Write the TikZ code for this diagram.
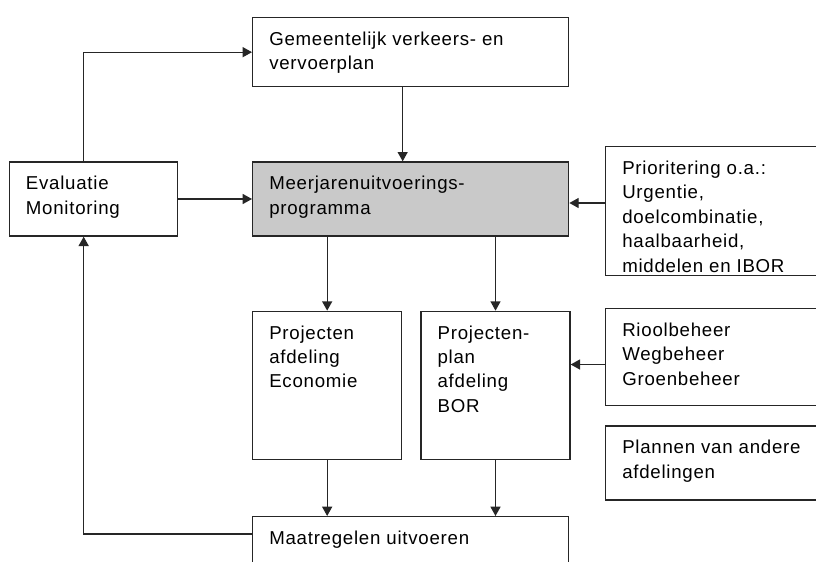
\documentclass[tikz,border=0pt]{standalone}
\usepackage{fontspec}
\setmainfont[LetterSpace=4]{Liberation Sans}
\usetikzlibrary{arrows.meta, positioning}

\begin{document}
\begin{tikzpicture}[x=0.75pt, y=-0.75pt,
	block/.style = {shape=rectangle, draw=black!85, line width=1pt, anchor=north west, inner sep=0pt},
	txt/.style = {anchor=north west, xshift=12.75pt, yshift=-11pt, align=left, inner sep=0pt, font=\fontsize{14}{18.3}\selectfont},
	flow/.style = {draw=black!85, line width=1pt, -{Triangle[length=7pt, width=7.5pt]}}]
	\useasboundingbox (0,0) rectangle (816,561);
	\node[block, minimum width=237pt, minimum height=51.75pt,
		label={[txt]north west:{Gemeentelijk verkeers- en\\vervoerplan}}] (GVVP) at (252,17) {};
	\node[block, fill=black!21, minimum width=237pt, minimum height=55.5pt,
		below=55.5pt of GVVP.south west, anchor=north west,
		label={[txt]north west:{Meerjarenuitvoerings-\\programma}}] (MUP) {};
	\node[block, minimum width=126pt, minimum height=55.5pt,
		left=55.5pt of MUP.north west, anchor=north east,
		label={[txt]north west:{Evaluatie\\Monitoring}}] (Eval) {};
	\node[block, minimum width=161.25pt, minimum height=96.75pt,
		label={[txt]north west:{Prioritering o.a.:\\Urgentie,\\doelcombinatie,\\haalbaarheid,\\middelen en IBOR}}] (Prio) at (605,146) {};
	\node[block, minimum width=111.75pt, minimum height=111pt,
		below=55.5pt of MUP.south west, anchor=north west,
		label={[txt]north west:{Projecten\\afdeling\\Economie}}] (Econ) {};
	\node[block, minimum width=111.75pt, minimum height=111pt,
		right=13.5pt of Econ.north east, anchor=north west,
		label={[txt]north west:{Projecten-\\plan\\afdeling\\BOR}}] (BOR) {};
	\node[block, minimum width=161.25pt, minimum height=72.75pt,
		label={[txt]north west:{Rioolbeheer\\Wegbeheer\\Groenbeheer}}] (Beheer) at (605,308) {};
	\node[block, minimum width=161.25pt, minimum height=55.5pt,
		below=14.25pt of Beheer.south west, anchor=north west,
		label={[txt]north west:{Plannen van andere\\afdelingen}}] (Plannen) {};
	\node[block, minimum width=237pt, minimum height=45pt,
		below=42pt of Econ.south west, anchor=north west,
		label={[txt]north west:{Maatregelen uitvoeren}}] (Maatr) {};

	\coordinate (EvalUp) at ([xshift=56.25pt]Eval.north west);
	\coordinate (EvalIn) at ([xshift=56.25pt]Eval.south west);
	\coordinate (MaatrOut) at ([yshift=-13.5pt]Maatr.north west);

	\draw[flow] (EvalUp) |- (GVVP.west);
	\draw[flow] ([xshift=-6pt]GVVP.south) -- ([xshift=-6pt]MUP.north);
	\draw[flow] (Eval.east) -- (MUP.west);
	\draw[flow] ([yshift=-3pt]Prio.west |- MUP.east) -- ([yshift=-3pt]MUP.east);
	\draw[flow] (MUP.south -| Econ.north) -- (Econ.north);
	\draw[flow] (MUP.south -| BOR.north) -- (BOR.north);
	\draw[flow] ([yshift=-5.5pt]Beheer.west) -- ([yshift=-5.5pt]Beheer.west -| BOR.east);
	\draw[flow] (Econ.south) -- (Econ.south |- Maatr.north);
	\draw[flow] (BOR.south) -- (BOR.south |- Maatr.north);
	\draw[flow] (MaatrOut) -| (EvalIn);
\end{tikzpicture}
\end{document}
